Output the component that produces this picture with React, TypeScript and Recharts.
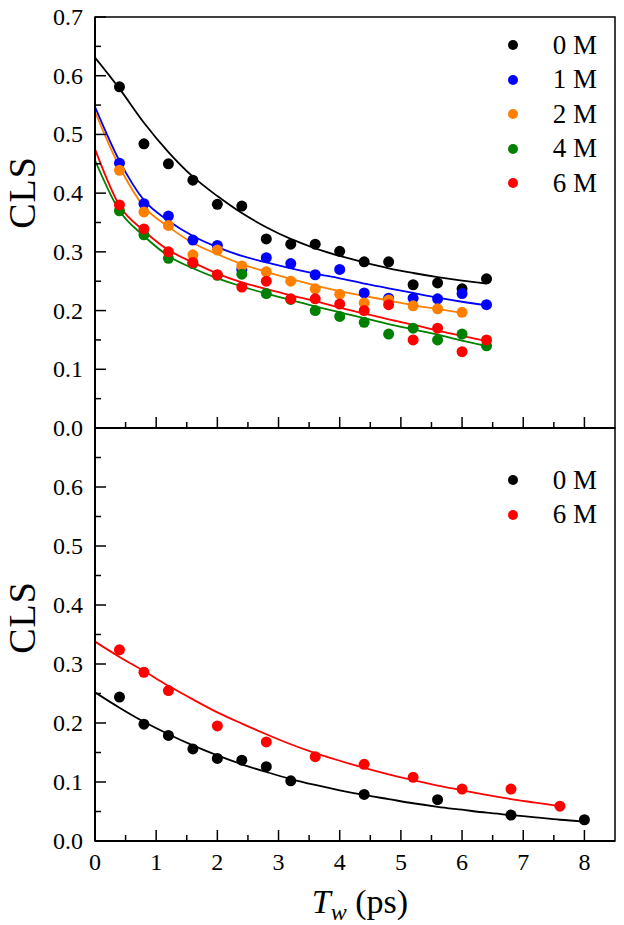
import { ComposedChart, Scatter, Line, XAxis, YAxis, ReferenceArea, Legend, Label } from 'recharts';

const FONT = '"Liberation Serif", "Times New Roman", serif';

// top panel: measured points
const topTw = [0.4, 0.8, 1.2, 1.6, 2.0, 2.4, 2.8, 3.2, 3.6, 4.0, 4.4, 4.8, 5.2, 5.6, 6.0, 6.4];
const cls0M = [0.581, 0.484, 0.45, 0.422, 0.381, 0.378, 0.322, 0.313, 0.313, 0.301, 0.283, 0.283, 0.244, 0.247, 0.237, 0.254];
const cls1M = [0.451, 0.382, 0.361, 0.32, 0.311, 0.27, 0.29, 0.28, 0.261, 0.27, 0.23, 0.221, 0.221, 0.22, 0.229, 0.21];
const cls2M = [0.439, 0.368, 0.345, 0.295, 0.303, 0.276, 0.266, 0.25, 0.237, 0.228, 0.213, 0.218, 0.208, 0.203, 0.197];
const cls4M = [0.37, 0.329, 0.289, 0.28, 0.26, 0.262, 0.229, 0.219, 0.2, 0.19, 0.18, 0.16, 0.17, 0.15, 0.16, 0.14];
const cls6M = [0.38, 0.339, 0.3, 0.282, 0.261, 0.24, 0.25, 0.22, 0.22, 0.211, 0.2, 0.21, 0.15, 0.17, 0.13, 0.15];

// top panel: fit curves
const fitTwTop = [0, 0.4, 0.8, 1.2, 1.6, 2.0, 2.4, 2.8, 3.2, 3.6, 4.0, 4.4, 4.8, 5.2, 5.6, 6.0, 6.4];
const fit0M = [0.631, 0.578, 0.52, 0.47, 0.428, 0.395, 0.366, 0.342, 0.322, 0.306, 0.293, 0.282, 0.272, 0.264, 0.257, 0.251, 0.246];
const fit1M = [0.547, 0.455, 0.388, 0.353, 0.327, 0.308, 0.293, 0.282, 0.272, 0.263, 0.255, 0.246, 0.238, 0.23, 0.222, 0.215, 0.209];
const fit2M = [0.539, 0.445, 0.377, 0.343, 0.315, 0.296, 0.279, 0.266, 0.254, 0.243, 0.233, 0.225, 0.217, 0.209, 0.203, 0.196];
const fit4M = [0.456, 0.37, 0.327, 0.293, 0.272, 0.255, 0.241, 0.229, 0.218, 0.207, 0.197, 0.187, 0.177, 0.168, 0.159, 0.149, 0.14];
const fit6M = [0.475, 0.379, 0.336, 0.303, 0.282, 0.263, 0.248, 0.237, 0.226, 0.216, 0.205, 0.195, 0.185, 0.176, 0.166, 0.157, 0.148];

// bottom panel
const botTw0M = [0.4, 0.8, 1.2, 1.6, 2.0, 2.4, 2.8, 3.2, 4.4, 5.6, 6.8, 8.0];
const botCls0M = [0.244, 0.198, 0.179, 0.156, 0.14, 0.137, 0.126, 0.102, 0.079, 0.07, 0.044, 0.036];
const botTw6M = [0.4, 0.8, 1.2, 2.0, 2.8, 3.6, 4.4, 5.2, 6.0, 6.8, 7.6];
const botCls6M = [0.324, 0.286, 0.255, 0.195, 0.168, 0.143, 0.13, 0.108, 0.088, 0.088, 0.059];
const fitTwBot = [0, 0.4, 0.8, 1.2, 1.6, 2.0, 2.4, 2.8, 3.2, 3.6, 4.0, 4.4, 4.8, 5.2, 5.6, 6.0, 6.4, 6.8, 7.2, 7.6, 8.0];
const fitBot0M = [0.252, 0.226, 0.202, 0.181, 0.162, 0.145, 0.13, 0.117, 0.105, 0.095, 0.086, 0.078, 0.071, 0.064, 0.058, 0.053, 0.048, 0.044, 0.04, 0.036, 0.033];
const fitBot6M = [0.338, 0.312, 0.288, 0.263, 0.24, 0.218, 0.199, 0.181, 0.164, 0.149, 0.136, 0.124, 0.113, 0.103, 0.094, 0.086, 0.078, 0.071, 0.065, 0.059];

const xTicks = [0, 0.5, 1, 1.5, 2, 2.5, 3, 3.5, 4, 4.5, 5, 5.5, 6, 6.5, 7, 7.5, 8];
const yTicks = [0, 0.05, 0.1, 0.15, 0.2, 0.25, 0.3, 0.35, 0.4, 0.45, 0.5, 0.55, 0.6, 0.65, 0.7];

const pts = (xs: number[], ys: number[]) => ys.map((y, i) => ({ x: xs[i], y }));

const YTick = (props: any) => {
  const { x, y, payload, hideTop } = props;
  const v = payload.value;
  const major = Math.abs(v * 10 - Math.round(v * 10)) < 1e-6;
  return (
    <g>
      <line x1={x} x2={x + (major ? 11 : 6)} y1={y} y2={y} stroke="#000" strokeWidth={1.5} />
      {major && !(hideTop && v > 0.65) && (
        <text x={x - 12} y={y + 8} textAnchor="end" fontFamily={FONT} fontSize={24} fill="#000">
          {v.toFixed(1)}
        </text>
      )}
    </g>
  );
};

const XTick = (props: any) => {
  const { x, y, payload, showLabel } = props;
  const major = Number.isInteger(payload.value);
  return (
    <g>
      <line x1={x} x2={x} y1={y} y2={y - (major ? 11 : 6)} stroke="#000" strokeWidth={1.5} />
      {showLabel && major && (
        <text x={x} y={y + 29} textAnchor="middle" fontFamily={FONT} fontSize={24} fill="#000">
          {payload.value}
        </text>
      )}
    </g>
  );
};

const ClsLabel = ({ viewBox, shift }: any) => {
  const cx = viewBox.x + 27;
  const cy = viewBox.y + viewBox.height / 2 + shift;
  return (
    <text x={cx} y={cy} transform={`rotate(-90, ${cx}, ${cy})`} textAnchor="middle" fontFamily={FONT}
      fontSize={38} letterSpacing={1} fill="#000">
      CLS
    </text>
  );
};

const TwLabel = ({ viewBox }: any) => (
  <text x={viewBox.x + viewBox.width / 2 + 5} y={viewBox.y + 72} textAnchor="middle" fontFamily={FONT} fontSize={34} fill="#000">
    <tspan fontStyle="italic">T</tspan>
    <tspan fontStyle="italic" fontSize={24} dy={7}>w</tspan>
    <tspan dy={-7}> (ps)</tspan>
  </text>
);

const legendContent = (props: any) => (
  <div style={{ fontFamily: FONT, fontSize: 27, color: '#000' }}>
    {(props.payload || []).filter((e: any) => e.type !== 'none').map((e: any) => (
      <div key={e.value} style={{ display: 'flex', alignItems: 'center', height: 34.5, lineHeight: '34.5px' }}>
        <span style={{ display: 'inline-block', width: 10, height: 10, borderRadius: 5, background: e.color, marginRight: 35 }} />
        <span>{e.value}</span>
      </div>
    ))}
  </div>
);

const dot = (color: string) => (p: any) => <circle cx={p.cx} cy={p.cy} r={5.5} fill={color} />;

const topSeries = [
  { name: '0 M', color: '#000000', tw: topTw, cls: cls0M, fit: fit0M },
  { name: '1 M', color: '#0000ff', tw: topTw, cls: cls1M, fit: fit1M },
  { name: '2 M', color: '#ff8000', tw: topTw, cls: cls2M, fit: fit2M },
  { name: '4 M', color: '#008000', tw: topTw, cls: cls4M, fit: fit4M },
  { name: '6 M', color: '#ff0000', tw: topTw, cls: cls6M, fit: fit6M },
];

const botSeries = [
  { name: '0 M', color: '#000000', tw: botTw0M, cls: botCls0M, fitTw: fitTwBot, fit: fitBot0M },
  { name: '6 M', color: '#ff0000', tw: botTw6M, cls: botCls6M, fitTw: fitTwBot, fit: fitBot6M },
];

const axisLine = { stroke: '#000', strokeWidth: 2 };

export default function App() {
  return (
    <div style={{ position: 'absolute', left: 0, top: 0, width: 624, height: 925, background: '#fff' }}>
      <style>{'.recharts-surface { overflow: visible; }'}</style>
      <div style={{ position: 'absolute', left: 0, top: 428 }}>
        <ComposedChart width={624} height={497} margin={{ top: 0, right: 9, left: 8, bottom: 0 }}>
          <XAxis type="number" dataKey="x" domain={[0, 8.5]} ticks={xTicks} interval={0} height={84}
            tickSize={0} tickMargin={0} tickLine={false} axisLine={axisLine} allowDataOverflow
            tick={(p: any) => <XTick {...p} showLabel />}>
            <Label content={(p: any) => <TwLabel {...p} />} />
          </XAxis>
          <YAxis type="number" dataKey="y" domain={[0, 0.7]} ticks={yTicks} interval={0} width={87}
            tickSize={0} tickMargin={0} tickLine={false} axisLine={axisLine} allowDataOverflow
            tick={(p: any) => <YTick {...p} hideTop />}>
            <Label content={(p: any) => <ClsLabel {...p} shift={-17} />} />
          </YAxis>
          <ReferenceArea x1={0} x2={8.5} y1={0} y2={0.7} fill="none" stroke="#000" strokeWidth={1.5} />
          {botSeries.map((s) => (
            <Line key={'f' + s.name} data={pts(s.fitTw, s.fit)} dataKey="y" type="monotone" stroke={s.color}
              strokeWidth={1.8} dot={false} legendType="none" isAnimationActive={false} />
          ))}
          {botSeries.map((s) => (
            <Scatter key={s.name} name={s.name} data={pts(s.tw, s.cls)} fill={s.color} legendType="circle"
              shape={dot(s.color)} isAnimationActive={false} />
          ))}
          <Legend layout="vertical" align="center" verticalAlign="middle" content={legendContent}
            wrapperStyle={{ left: 507.7, top: 34.75, width: 110, height: 'auto' }} />
        </ComposedChart>
      </div>
      <div style={{ position: 'absolute', left: 0, top: 0 }}>
        <ComposedChart width={624} height={429} margin={{ top: 17, right: 9, left: 8, bottom: 0 }}>
          <XAxis type="number" dataKey="x" domain={[0, 8.5]} ticks={xTicks} interval={0} height={1}
            tickSize={0} tickMargin={0} tickLine={false} axisLine={axisLine} allowDataOverflow
            tick={(p: any) => <XTick {...p} showLabel={false} />} />
          <YAxis type="number" dataKey="y" domain={[0, 0.7]} ticks={yTicks} interval={0} width={87}
            tickSize={0} tickMargin={0} tickLine={false} axisLine={axisLine} allowDataOverflow
            tick={(p: any) => <YTick {...p} />}>
            <Label content={(p: any) => <ClsLabel {...p} shift={-30} />} />
          </YAxis>
          <ReferenceArea x1={0} x2={8.5} y1={0} y2={0.7} fill="none" stroke="#000" strokeWidth={1.5} />
          {topSeries.map((s) => (
            <Line key={'f' + s.name} data={pts(fitTwTop, s.fit)} dataKey="y" type="monotone" stroke={s.color}
              strokeWidth={1.8} dot={false} legendType="none" isAnimationActive={false} />
          ))}
          {topSeries.map((s) => (
            <Scatter key={s.name} name={s.name} data={pts(s.tw, s.cls)} fill={s.color} legendType="circle"
              shape={dot(s.color)} isAnimationActive={false} />
          ))}
          <Legend layout="vertical" align="center" verticalAlign="middle" content={legendContent}
            wrapperStyle={{ left: 507.7, top: 27.75, width: 110, height: 'auto' }} />
        </ComposedChart>
      </div>
    </div>
  );
}
